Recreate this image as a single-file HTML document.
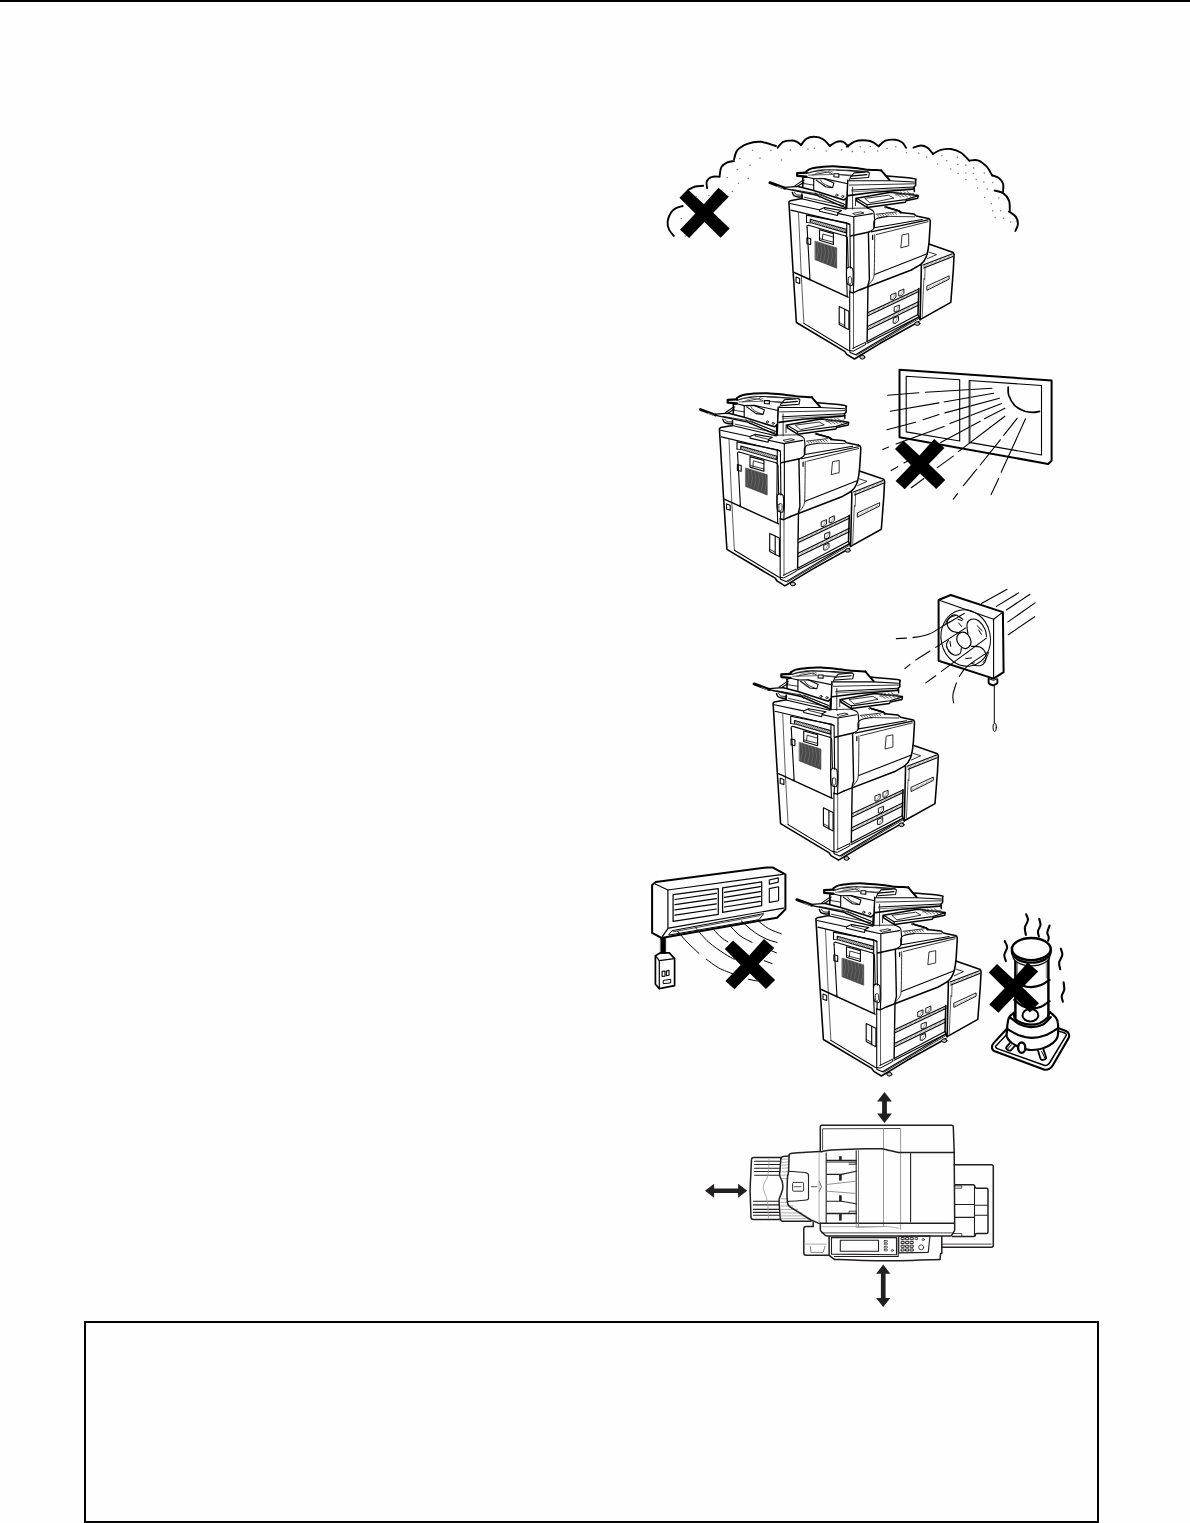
<!DOCTYPE html>
<html><head><meta charset="utf-8"><title>page</title>
<style>
html,body{margin:0;padding:0;background:#fefefe;}
body{width:1190px;height:1523px;position:relative;overflow:hidden;font-family:"Liberation Sans",sans-serif;}
#topbar{position:absolute;left:0;top:0;width:1190px;height:2px;background:#000;}
#box{position:absolute;left:84px;top:1321px;width:1011px;height:198px;border:2px solid #000;border-bottom-width:2px;}
svg{position:absolute;left:0;top:0;}
</style></head><body>
<div id="topbar"></div>
<div id="box"></div>
<svg width="1190" height="1523" viewBox="0 0 1190 1523" stroke-linecap="round" stroke-linejoin="round">
<defs>
<g id="copier">
<path d="M788.8 202.1 L796.4 322.5 L844.7 351.4 L846.8 354.4 L854.4 359 L918.8 321.7 L920.1 319.6 L950.8 302.4 L953.3 270 L954.1 254.6 L953.3 252.5 L928.9 244.1 L930.2 220.6 L928.1 218.5 L916.3 216 L913.8 213.9 L900.3 212.6 L898.7 210.9 L886.1 207.1 L917.7 198.1 L918.2 195.6 L915.6 185.5 L915.6 180.1 L913.1 178.4 L886.2 175.9 L881.2 170.4 L865.2 169.6 L840 167.5 L836.4 166.2 L812.1 167.9 L806.2 170.4 L806.2 172.5 L797.4 172.9 L797.4 175.9 L802.8 178 L802 183.8 L785.2 187.2 L769.6 182.6 L784.3 188.5 L792.7 193.1 L793.6 195.6 L802 196.9 L802 198.6 L790.2 200.7Z" stroke="none" stroke-width="0" fill="#fefefe"/>
<path d="M802 198.6 L790.2 200.7 L788.9 201.9 L793 270 L796.4 322.5 L844.7 351.4 L846.8 354.4 L854.4 359 L880.2 343.3 L918.8 321.7" stroke="#000" stroke-width="1.55" fill="none"/>
<path d="M790.1 203.5 L819.1 209.7" stroke="#000" stroke-width="1.1" fill="none"/>
<path d="M838 213.4 L853.5 216.8 L872.4 213.6" stroke="#000" stroke-width="1.1" fill="none"/>
<path d="M790.9 210.1 L849.7 224.1" stroke="#000" stroke-width="1.1" fill="none"/>
<path d="M819.5 209.7 L824.5 207.6 L841.8 210.5 L838 212.6 L837.6 215.5 L819.5 211.3Z" stroke="#000" stroke-width="1.1" fill="none"/>
<path d="M824.5 207.6 L824.5 209.2 L838 212.6" stroke="#000" stroke-width="0.8" fill="none"/>
<path d="M867.4 208 C868.2 208.4 871.3 209.3 872.4 210.3 C873.6 211.2 873.8 211 874.1 213.9 C874.4 216.8 875 224.7 874.1 227.7 C873.3 230.7 869.9 231.2 869.1 231.9" stroke="#000" stroke-width="1.1" fill="none"/>
<path d="M850.6 236 L869.1 231.9" stroke="#000" stroke-width="1.55" fill="none"/>
<path d="M853.1 213.4 L860.7 211.9 L864 213 L855.6 215.1Z" stroke="#000" stroke-width="0.8" fill="none"/>
<path d="M798.5 212.2 L801 270 L803.9 323.4" stroke="#333" stroke-width="0.8" fill="none"/>
<path d="M803.9 323.4 L848.1 350.2 L852.7 351" stroke="#000" stroke-width="1.1" fill="none"/>
<path d="M806.5 222.3 L806.5 215.1 L846.8 222.9 L849.6 224.4" stroke="#000" stroke-width="1.1" fill="none"/>
<path d="M806.5 222.3 L810.3 222.9" stroke="#000" stroke-width="0.8" fill="none"/>
<path d="M810.3 219.3 L846.4 229.4 L846.4 232.9 L810.3 222.5Z" stroke="#000" stroke-width="1.1" fill="#8a8a8a"/>
<path d="M812.4 220.5 L811.1 222.4" stroke="#e0e0e0" stroke-width="0.7" fill="none"/>
<path d="M814.2 221 L812.9 222.9" stroke="#e0e0e0" stroke-width="0.7" fill="none"/>
<path d="M816 221.5 L814.7 223.4" stroke="#e0e0e0" stroke-width="0.7" fill="none"/>
<path d="M817.8 222 L816.5 223.9" stroke="#e0e0e0" stroke-width="0.7" fill="none"/>
<path d="M819.6 222.5 L818.3 224.4" stroke="#e0e0e0" stroke-width="0.7" fill="none"/>
<path d="M821.4 223 L820.1 224.9" stroke="#e0e0e0" stroke-width="0.7" fill="none"/>
<path d="M823.2 223.5 L821.9 225.4" stroke="#e0e0e0" stroke-width="0.7" fill="none"/>
<path d="M825 224 L823.7 225.9" stroke="#e0e0e0" stroke-width="0.7" fill="none"/>
<path d="M826.8 224.5 L825.5 226.4" stroke="#e0e0e0" stroke-width="0.7" fill="none"/>
<path d="M828.7 225 L827.3 226.9" stroke="#e0e0e0" stroke-width="0.7" fill="none"/>
<path d="M830.5 225.5 L829.1 227.4" stroke="#e0e0e0" stroke-width="0.7" fill="none"/>
<path d="M832.3 226.1 L830.9 227.9" stroke="#e0e0e0" stroke-width="0.7" fill="none"/>
<path d="M834.1 226.6 L832.7 228.4" stroke="#e0e0e0" stroke-width="0.7" fill="none"/>
<path d="M835.9 227.1 L834.5 228.9" stroke="#e0e0e0" stroke-width="0.7" fill="none"/>
<path d="M837.7 227.6 L836.3 229.4" stroke="#e0e0e0" stroke-width="0.7" fill="none"/>
<path d="M839.5 228.1 L838.2 229.9" stroke="#e0e0e0" stroke-width="0.7" fill="none"/>
<path d="M841.3 228.6 L840 230.4" stroke="#e0e0e0" stroke-width="0.7" fill="none"/>
<path d="M843.1 229.1 L841.8 230.9" stroke="#e0e0e0" stroke-width="0.7" fill="none"/>
<path d="M844.9 229.6 L843.6 231.4" stroke="#e0e0e0" stroke-width="0.7" fill="none"/>
<path d="M807.1 227.7 C807.1 227.4 806.8 226.1 807.1 225.6 C807.3 225.2 808.3 225.3 808.6 225.2" stroke="#000" stroke-width="1.1" fill="none"/>
<path d="M808.6 225.2 L845.5 236" stroke="#000" stroke-width="1.1" fill="none"/>
<path d="M845.5 236 C845.8 236.2 846.9 236.8 847.2 237.4 C847.5 238 847.4 239.1 847.5 239.5" stroke="#000" stroke-width="1.1" fill="none"/>
<path d="M847.5 239.5 L848.2 267.2" stroke="#000" stroke-width="1.1" fill="none"/>
<path d="M807.1 227.7 L810 279.8 L809.4 278" stroke="#000" stroke-width="1.1" fill="none"/>
<path d="M819.5 229.8 L833.4 233.6 L833.4 244.5 L819.5 240.3Z" stroke="#000" stroke-width="1.1" fill="none"/>
<path d="M822.4 239.5 L822.9 234 L833.4 237" stroke="#000" stroke-width="0.8" fill="none"/>
<path d="M820.3 238.8 L833.4 242.2" stroke="#000" stroke-width="0.8" fill="none"/>
<path d="M806.9 237.8 L810.7 238.7 L810.7 244.5 L806.9 243.7Z" stroke="#000" stroke-width="1.1" fill="none"/>
<path d="M815.3 241.2 L836.7 247.9 L836.7 268.2 L815.3 259.8Z" stroke="#333" stroke-width="0.6" fill="#4a4a4a"/>
<path d="M817 242 L818.5 250.4 L816.6 258.8" stroke="#777" stroke-width="0.6" fill="none"/>
<path d="M820.5 243.1 L822 251.6 L820.1 260.2" stroke="#777" stroke-width="0.6" fill="none"/>
<path d="M824 244.2 L825.5 252.8 L823.6 261.5" stroke="#777" stroke-width="0.6" fill="none"/>
<path d="M827.6 245.3 L829.1 253.9 L827.1 262.9" stroke="#777" stroke-width="0.6" fill="none"/>
<path d="M831.1 246.4 L832.6 255.1 L830.7 264.2" stroke="#777" stroke-width="0.6" fill="none"/>
<path d="M834.6 247.5 L836.1 256.3 L834.2 265.5" stroke="#777" stroke-width="0.6" fill="none"/>
<path d="M846.8 222.9 L846.4 270 L847.2 296.2" stroke="#000" stroke-width="1.1" fill="none"/>
<path d="M849.9 224.4 L850.4 268.1" stroke="#000" stroke-width="1.1" fill="none"/>
<path d="M853.8 217.2 L853.9 279.8 L853.3 292.7" stroke="#000" stroke-width="1.1" fill="none"/>
<path d="M846.8 268.3 C846.7 269.4 846.4 272.7 846.4 275 C846.4 277.4 846.5 281 846.8 282.6 C847.2 284.2 847.6 284.3 848.5 284.7 C849.4 285.1 851.5 285.9 852.3 285.1 C853 284.4 853 282.6 853.1 280.1 C853.2 277.6 853.2 272 852.9 270 C852.7 268 852.5 268.4 851.8 267.9 C851.2 267.4 849.7 267 848.9 267.1 C848.1 267.1 847.2 268.1 846.8 268.3" stroke="#000" stroke-width="1.1" fill="none"/>
<path d="M848.5 277.6 C848.7 276.5 849.4 276.7 849.9 276.7 C850.4 276.8 851.2 276.8 851.4 277.7 C851.7 278.7 851.7 281.6 851.4 282.6 C851.2 283.6 850.4 283.8 849.9 283.9 C849.4 283.9 848.7 284.1 848.5 283 C848.2 282 848.2 278.6 848.5 277.6Z" stroke="#000" stroke-width="0.8" fill="none"/>
<path d="M850.2 285.1 L850 292" stroke="#000" stroke-width="1.1" fill="none"/>
<path d="M794.3 272.5 L848.1 297.1" stroke="#000" stroke-width="1.4" fill="none"/>
<path d="M796 277.1 L799.7 278.4 L799.7 283.4 L796 282.2Z" stroke="#000" stroke-width="1.1" fill="none"/>
<path d="M839.2 306.6 L848.9 311.2 L848.9 329.8 L839.2 324.6Z" stroke="#000" stroke-width="1.1" fill="none"/>
<path d="M844.7 309.3 L844.7 327.8" stroke="#000" stroke-width="1.1" fill="none"/>
<path d="M839.2 322.5 L844.7 325.5" stroke="#000" stroke-width="0.8" fill="none"/>
<path d="M849.7 292 L849.7 350.7" stroke="#000" stroke-width="1.1" fill="none"/>
<path d="M853.5 292.9 L853.5 348.6" stroke="#333" stroke-width="0.8" fill="none"/>
<path d="M849.7 292 L853.1 292.9 L860 289.7" stroke="#000" stroke-width="1.4" fill="none"/>
<path d="M852.7 348.5 L865.7 342.2 L865.7 344.5 L853.5 351" stroke="#000" stroke-width="1" fill="none"/>
<path d="M849.7 351 L850 352.5 L855.6 354.8 L918.7 317" stroke="#000" stroke-width="1.1" fill="none"/>
<path d="M856.9 355.2 L918.8 318.6" stroke="#000" stroke-width="0.8" fill="none"/>
<ellipse cx="862.4" cy="357.2" rx="2.5" ry="1.9" stroke="#000" stroke-width="1" fill="#bbb"/>
<ellipse cx="917.3" cy="323.6" rx="2.6" ry="1.8" stroke="#000" stroke-width="1" fill="#bbb"/>
<path d="M860 289.7 L911.3 270 L920.5 264.7" stroke="#000" stroke-width="1.55" fill="none"/>
<path d="M886.1 207.1 C888.2 207.8 896.3 210 898.7 210.9 C901 211.8 900.1 212.3 900.3 212.6" stroke="#000" stroke-width="1.55" fill="none"/>
<path d="M900.3 212.6 L913.8 213.9 L916.3 216 L928.1 218.5" stroke="#000" stroke-width="1.55" fill="none"/>
<path d="M928.1 218.5 C928.4 218.8 929.9 218.3 930.2 220.6 C930.4 222.8 930 228.1 929.7 231.9 C929.5 235.8 929.3 240.1 928.9 243.7 C928.5 247.3 928 251 927.2 253.8 C926.5 256.6 925.4 258.7 924.3 260.5 C923.2 262.3 921.1 264 920.5 264.7" stroke="#000" stroke-width="1.55" fill="none"/>
<path d="M873.9 227.7 C873.9 226.7 873.4 223 873.9 221.4 C874.4 219.9 874.5 219.3 876.8 218.5 C879.1 217.6 885.9 216.7 887.7 216.4" stroke="#000" stroke-width="1.1" fill="none"/>
<path d="M887.7 216.4 L914.6 216.8" stroke="#000" stroke-width="0.8" fill="none"/>
<path d="M876 214.3 L897 211.8" stroke="#000" stroke-width="0.8" fill="none"/>
<path d="M876.8 214.5 L878.9 216.4" stroke="#555" stroke-width="1" fill="none"/>
<path d="M879.3 214.2 L881.4 216.1" stroke="#555" stroke-width="1" fill="none"/>
<path d="M881.8 213.9 L883.9 215.8" stroke="#555" stroke-width="1" fill="none"/>
<path d="M884.4 213.6 L886.5 215.5" stroke="#555" stroke-width="1" fill="none"/>
<path d="M886.9 213.3 L889 215.2" stroke="#555" stroke-width="1" fill="none"/>
<path d="M889.4 213 L891.5 214.9" stroke="#555" stroke-width="1" fill="none"/>
<path d="M891.9 212.7 L894 214.6" stroke="#555" stroke-width="1" fill="none"/>
<path d="M894.5 212.4 L896.6 214.3" stroke="#555" stroke-width="1" fill="none"/>
<path d="M874.3 227.7 L922.2 219.5" stroke="#000" stroke-width="1.1" fill="none"/>
<path d="M870.9 231.9 L928.1 219.9" stroke="#000" stroke-width="1.1" fill="none"/>
<path d="M876.4 234.5 L928.1 221.7" stroke="#000" stroke-width="0.8" fill="none"/>
<path d="M868.4 232.4 L869.4 279.8 L868 285.1 L867.1 341.4" stroke="#000" stroke-width="1.4" fill="none"/>
<path d="M874.7 234.6 C874.7 238.7 874.6 252.2 874.5 258.8 C874.4 265.4 874.4 270.9 874.1 274.4 C873.8 277.9 873.6 278 872.6 279.8 C871.7 281.6 869.1 284.2 868.4 285.1" stroke="#000" stroke-width="0.8" fill="none"/>
<path d="M874.5 274.4 L927.2 253.8" stroke="#000" stroke-width="1.1" fill="none"/>
<path d="M902.4 234.9 L908.7 233.6 L908.7 245.8 L901.2 247.7Z" stroke="#000" stroke-width="0.8" fill="none"/>
<path d="M872.6 235.3 L872.6 239.5" stroke="#000" stroke-width="1.2" fill="none"/>
<path d="M868 312.4 L918.8 288.9" stroke="#000" stroke-width="1.1" fill="none"/>
<path d="M868 315.8 L918.8 291.4" stroke="#000" stroke-width="1.1" fill="none"/>
<path d="M868 314.1 L918.8 290.2" stroke="#777" stroke-width="1.6" fill="none" stroke-dasharray="0.6 0.8" stroke-linecap="butt"/>
<path d="M868 326.3 L918.8 301.5" stroke="#000" stroke-width="1.1" fill="none"/>
<path d="M868 329.7 L918.8 304.9" stroke="#000" stroke-width="1.1" fill="none"/>
<path d="M868 328 L918.8 303.2" stroke="#777" stroke-width="1.6" fill="none" stroke-dasharray="0.6 0.8" stroke-linecap="butt"/>
<path d="M867.1 341.4 L918 314.5" stroke="#000" stroke-width="1.1" fill="none"/>
<path d="M867.1 343.3 L918.8 317.1" stroke="#000" stroke-width="1.1" fill="none"/>
<path d="M918.8 288.5 L918 314.5 L920.1 319.6" stroke="#000" stroke-width="1.55" fill="none"/>
<path d="M891.1 294.8 L896 292.8 L896 297.1 L893.4 299.7 L891.1 299.7Z" stroke="#000" stroke-width="0.9" fill="none"/>
<path d="M894.9 294.4 L892.8 298.6" stroke="#666" stroke-width="0.6" fill="none"/>
<path d="M899.1 291 L903.9 289 L903.9 293.4 L901.4 295.9 L899.1 295.9Z" stroke="#000" stroke-width="0.9" fill="none"/>
<path d="M902.9 290.6 L900.8 294.8" stroke="#666" stroke-width="0.6" fill="none"/>
<path d="M894.5 307 L899.3 305 L899.3 309.3 L896.8 311.8 L894.5 311.8Z" stroke="#000" stroke-width="0.9" fill="none"/>
<path d="M898.2 306.6 L896.1 310.8" stroke="#666" stroke-width="0.6" fill="none"/>
<path d="M893.6 318.3 L898.5 316.3 L898.5 320.7 L896 323.2 L893.6 323.2Z" stroke="#000" stroke-width="0.9" fill="none"/>
<path d="M897.4 317.9 L895.3 322.1" stroke="#666" stroke-width="0.6" fill="none"/>
<path d="M928.9 244.1 L953.3 252.5 L954.1 254.6 L953.3 270 L950.8 302.4 L920.1 319.6" stroke="#000" stroke-width="1.55" fill="none"/>
<path d="M921.3 265.5 L921.3 270 L920.1 319.6" stroke="#000" stroke-width="1.55" fill="none"/>
<path d="M925.1 266.4 L924.7 279.8 L923.9 278.4 L922.2 317.1" stroke="#333" stroke-width="0.8" fill="none"/>
<path d="M923 265.1 L952.4 253.8" stroke="#000" stroke-width="1.1" fill="none"/>
<path d="M923.9 268.1 L952.9 256.5" stroke="#000" stroke-width="1.1" fill="none"/>
<path d="M923.4 266.6 L952.4 255.1" stroke="#777" stroke-width="1.6" fill="none" stroke-dasharray="0.6 0.8" stroke-linecap="butt"/>
<path d="M928.9 252.1 L936.5 254.6 L927.2 258.8" stroke="#000" stroke-width="0.8" fill="none"/>
<path d="M927.2 286 L949.1 275.9 L949.1 279.2 L927.2 290.2Z" stroke="#000" stroke-width="0.9" fill="none"/>
<path d="M928.1 288.1 L948.2 278.4" stroke="#777" stroke-width="1.2" fill="none" stroke-dasharray="0.6 0.8" stroke-linecap="butt"/>
<path d="M797.4 172.9 L797.4 175.9 L802.8 178 L802 183.8 L794.4 186.4 L785.2 187.2 L785.2 188.7 L792.7 193.1 L794 195.6 L802 196.9 L845.7 209.1 L847.8 208.6 L846.3 208.6 L855.5 205.7 L867.1 207.4 L905.2 202.3 L906 200.7 L917.8 198.2 L918.2 195.4 L914.4 191.4 L915.6 185.5 L915.6 180.1 L913.1 178.4 L886.6 175.9 L881.2 170.4 L865.2 169.4 L840 167.5 L836.4 166.2 L823.8 166.6 L812.1 167.9 L806.2 170.4 L806.2 172.5Z" stroke="none" stroke-width="0" fill="#fefefe"/>
<path d="M769.9 182.7 L784.7 188.2" stroke="#000" stroke-width="2.9" fill="none"/>
<path d="M777.6 186.4 L783.1 188.7" stroke="#888" stroke-width="1" fill="none"/>
<path d="M784.7 187.4 L798.6 186.4" stroke="#000" stroke-width="1.35" fill="none"/>
<path d="M798.2 186.4 L813.7 190.4 L844 200 L846.3 198" stroke="#000" stroke-width="1.55" fill="none"/>
<path d="M785.2 188.6 L817.1 195.3 L845.7 207.8" stroke="#000" stroke-width="1.4" fill="none"/>
<path d="M792.7 189.6 L817.1 193.8 L844 204" stroke="#000" stroke-width="0.8" fill="none"/>
<path d="M802.8 199 L845.7 209.1" stroke="#000" stroke-width="1.1" fill="none"/>
<path d="M804.5 197.3 L844 205.7" stroke="#000" stroke-width="0.8" fill="none"/>
<path d="M815.4 192.7 L819.6 197.3" stroke="#000" stroke-width="0.8" fill="none"/>
<path d="M819.6 193.9 L845.7 205" stroke="#000" stroke-width="0.8" fill="none"/>
<path d="M792.3 192.4 C792.6 193 792.9 194.8 794 195.6 C795 196.4 797.3 196.8 798.6 197 C799.9 197.2 801.4 196.8 802 196.8" stroke="#000" stroke-width="1.4" fill="none"/>
<path d="M794.4 192.4 C794.8 192.8 795.3 194.3 796.5 194.8 C797.8 195.2 801.1 195.1 802 195.2" stroke="#000" stroke-width="0.9" fill="none"/>
<path d="M802 193.9 L802 198.8" stroke="#000" stroke-width="1.55" fill="none"/>
<path d="M794.8 185.9 L802 180.9 L804.3 180.1" stroke="#000" stroke-width="1.1" fill="none"/>
<path d="M796.9 186.8 L803.8 182.2" stroke="#000" stroke-width="1.1" fill="none"/>
<path d="M806.4 172.6 L797.2 173.1 L797.2 175.9 L806.4 176.6" stroke="#000" stroke-width="2.3" fill="none"/>
<path d="M802.8 178 L802.8 186.4" stroke="#000" stroke-width="1.55" fill="none"/>
<path d="M802.8 178 L806.2 177 L814.2 178.8" stroke="#000" stroke-width="1.1" fill="none"/>
<path d="M806.4 172.8 C806.5 172.5 805.7 171.8 806.6 171.1 C807.5 170.4 809 169.1 811.8 168.4 C814.6 167.7 819.1 167.1 823.2 166.7 C827.4 166.4 831.3 166.2 836.7 166.4 C842.1 166.6 850.7 167.6 855.5 168.1 C860.3 168.6 860.9 169 865.2 169.4 C869.5 169.8 878.5 170.2 881.2 170.4" stroke="#000" stroke-width="2" fill="none"/>
<path d="M881.2 170.4 L889.6 180.1" stroke="#000" stroke-width="2" fill="none"/>
<path d="M886.6 175.9 C891.1 176.3 908.3 177.7 913.1 178.4 C917.9 179.1 915.2 179.8 915.6 180.1" stroke="#000" stroke-width="1.55" fill="none"/>
<path d="M915.6 180.1 L915.6 185.5 L913.9 187.2 L914.4 191.4" stroke="#000" stroke-width="1.55" fill="none"/>
<path d="M807 173.3 C808.4 173 812.1 171.8 815.4 171.2 C818.8 170.6 821.6 169.9 827.2 169.7 C832.8 169.6 842.3 170.1 849 170.4 C855.8 170.7 864.6 171.5 867.7 171.7" stroke="#000" stroke-width="1.1" fill="none"/>
<path d="M812.1 175 L828.9 171.9" stroke="#000" stroke-width="0.8" fill="none"/>
<path d="M828.9 171.9 L832.2 173.8" stroke="#000" stroke-width="0.8" fill="none"/>
<path d="M833.9 173.8 L838.9 173.8 L838.9 177.1 L833.9 176.7Z" stroke="#000" stroke-width="1.1" fill="none"/>
<path d="M838.9 174.6 L851.6 175.9" stroke="#000" stroke-width="0.8" fill="none"/>
<path d="M867.7 171.7 L869.4 172.9 L868.6 177.5 L850.9 178.8" stroke="#000" stroke-width="1.1" fill="none"/>
<path d="M850.9 176.1 L866.9 174.6" stroke="#000" stroke-width="1.1" fill="none"/>
<path d="M850.9 176.1 L849.2 180.1" stroke="#000" stroke-width="1.1" fill="none"/>
<path d="M851.6 175.9 L854.1 172.9 L865 172.1" stroke="#000" stroke-width="1.1" fill="none"/>
<path d="M807.4 173.2 C808.7 172.8 812.1 171.4 815.2 170.8 C818.2 170.1 823 169.2 825.9 169.4 C828.8 169.6 831.5 171.7 832.6 172.1" stroke="#555" stroke-width="0.8" fill="none"/>
<path d="M815.2 173.8 C816 173.5 818 172.3 819.9 172 C821.8 171.6 824.9 171.5 826.6 171.8 C828.3 172.1 829.7 173.5 830.3 173.8" stroke="#666" stroke-width="0.8" fill="none"/>
<path d="M836.7 170.1 L852.8 171.1 L868.3 172" stroke="#333" stroke-width="1" fill="none"/>
<path d="M839.4 174.5 L852.1 175.2" stroke="#444" stroke-width="0.9" fill="none"/>
<path d="M808.4 175.1 L832.6 174.5" stroke="#555" stroke-width="0.9" fill="none"/>
<path d="M813.7 178.8 L813.7 189.9" stroke="#000" stroke-width="1.1" fill="none"/>
<path d="M813.7 178.8 L823.8 178.6 L847.8 183.7" stroke="#000" stroke-width="1.1" fill="none"/>
<path d="M823.8 178.6 L833.9 183 L832.6 187.6 L825.5 186.8 L816.3 180.1" stroke="#000" stroke-width="1.1" fill="none"/>
<path d="M820.5 180.1 C821 180.7 822 182.7 823.8 183.8 C825.6 185 830.1 186.6 831.4 187.2" stroke="#000" stroke-width="0.8" fill="none"/>
<path d="M802.8 183.4 L813.7 185.1" stroke="#000" stroke-width="0.8" fill="none"/>
<path d="M847.8 181.3 L846.9 208.6" stroke="#000" stroke-width="1.1" fill="none"/>
<path d="M847.6 180.1 L846.3 208.6" stroke="#000" stroke-width="1.1" fill="none"/>
<path d="M852.6 187.2 L852.6 209.1" stroke="#000" stroke-width="0.8" fill="none"/>
<path d="M855.5 198.1 L855.5 205.7" stroke="#000" stroke-width="0.8" fill="none"/>
<path d="M846.1 197.7 L845.7 208.1" stroke="#000" stroke-width="1.1" fill="none"/>
<circle cx="836.8" cy="195.2" r="1.1" stroke="#000" stroke-width="0.8" fill="none"/>
<circle cx="842.7" cy="196.5" r="1.1" stroke="#000" stroke-width="0.8" fill="none"/>
<path d="M848.4 180.7 L889.6 180.7 L914.2 182" stroke="#000" stroke-width="1.1" fill="none"/>
<path d="M849.2 185.1 L914.4 183.8" stroke="#333" stroke-width="1" fill="none"/>
<path d="M851.8 190 L913.6 187" stroke="#000" stroke-width="1.1" fill="none"/>
<path d="M851.8 191.8 L913.6 188.5" stroke="#555" stroke-width="0.8" fill="none"/>
<path d="M848.4 195.6 L871.9 192.5 L912.3 189.3 L914.4 188.7" stroke="#000" stroke-width="1.6" fill="none"/>
<path d="M856.6 198.3 L890.4 192.3 L918.2 195.4 L917.8 198.2 L906 200.7 L905.2 202.3 L867.1 207.4 L856.6 200.8Z" stroke="#000" stroke-width="1.55" fill="none"/>
<path d="M856.6 198.3 L867.1 204.7 L905.5 199.6 L917.8 195.9" stroke="#000" stroke-width="1.1" fill="none"/>
<path d="M867.1 204.7 L867.1 207.4" stroke="#000" stroke-width="1.1" fill="none"/>
<path d="M865.2 198.3 L888.7 195.2 L893.8 198.1 L870.3 202.8Z" stroke="#000" stroke-width="0.8" fill="none"/>
<path d="M893.8 192.4 L900.9 197.1" stroke="#444" stroke-width="0.8" fill="none"/>
<path d="M897.1 192.3 L904.3 197" stroke="#444" stroke-width="0.8" fill="none"/>
<path d="M900.5 192.1 L907.6 196.8" stroke="#444" stroke-width="0.8" fill="none"/>
<path d="M903.9 191.9 L911 196.6" stroke="#444" stroke-width="0.8" fill="none"/>
<path d="M907.2 191.7 L914.4 196.5" stroke="#444" stroke-width="0.8" fill="none"/>
<path d="M895.5 194.9 L913.9 193.3" stroke="#444" stroke-width="0.8" fill="none"/>
<path d="M887.1 207.4 L898.8 210.7 L901.3 212.4" stroke="#000" stroke-width="1.55" fill="none"/>
<circle cx="885.4" cy="207.1" r="0.9" stroke="#000" stroke-width="0.7" fill="none"/>
<path d="M847.2 208.4 L867.4 208" stroke="#000" stroke-width="0.8" fill="none"/>
</g>
<g id="xm"><path d="M-24.8 -15.4L-16.5 -23.9L-0.35 -8.9L14.35 -25.4L24.65 -16.3L9.06 -0.4L25.5 15.5L16.4 24.6L0.24 9L-15.06 24.9L-24.2 16.6L-8.9 0.5Z" fill="#000" stroke="none"/></g>
</defs>
<path d="M673.8 235.9 C673.1 234.9 670.3 232.4 669.3 230 C668.2 227.7 667.3 224.6 667.6 221.6 C667.9 218.7 669.6 214.6 671 212.4 C672.4 210.2 674 209.3 676 208.2 C678 207.1 681.6 206.4 682.7 206" stroke="#000" stroke-width="1.9" fill="none"/>
<path d="M688.6 189.7 C689.7 189.2 692.9 187.2 695.3 186.5 C697.8 185.9 701.9 186 703.2 185.8" stroke="#000" stroke-width="1.9" fill="none"/>
<path d="M707.1 188 C707 186.9 705.9 183.2 706.8 181.3 C707.6 179.4 710 177.5 712.1 176.8 C714.3 176 718.4 176.8 719.7 176.8" stroke="#000" stroke-width="1.9" fill="none"/>
<path d="M719.7 175.4 C720 174 720.1 169.2 721.4 167 C722.6 164.8 725.2 163.3 727.3 162.3 C729.4 161.3 732.9 161.3 734 161.1" stroke="#000" stroke-width="1.9" fill="none"/>
<path d="M734 159.5 C734.6 157.9 735.1 152.8 737.4 150.2 C739.6 147.6 743.5 145.2 747.4 143.8 C751.4 142.4 756.1 141.4 760.9 141.8 C765.6 142.2 773.5 145.3 776 146" stroke="#000" stroke-width="1.9" fill="none"/>
<path d="M777.7 147.7 C778.5 146.8 780.5 143.3 782.7 142.1 C785 140.9 788.8 140.5 791.1 140.5 C793.5 140.4 795.3 141 797 141.8 C798.7 142.6 800.5 144.6 801.2 145.2" stroke="#000" stroke-width="1.9" fill="none"/>
<path d="M801.2 144.8 C802.1 143.8 804 140.1 806.3 138.8 C808.5 137.4 811.9 136.7 814.7 136.8 C817.5 136.8 820.5 137.7 823.1 139.3 C825.6 140.8 828.7 144.9 829.8 146" stroke="#000" stroke-width="1.9" fill="none"/>
<path d="M829.8 146 C830.9 145.3 834.3 142.5 836.5 141.8 C838.8 141.1 841.3 141 843.2 141.8 C845.2 142.6 847.4 145.7 848.3 146.5" stroke="#000" stroke-width="1.9" fill="none"/>
<path d="M846.8 146.8 C848.2 145.9 851.8 142.4 855.2 141.3 C858.6 140.2 863.9 140.2 867 140.5 C870.1 140.7 871.7 141.6 873.7 142.6 C875.7 143.7 877.9 145.9 878.7 146.5" stroke="#000" stroke-width="1.9" fill="none"/>
<path d="M878.7 146 C879.9 145.1 882.7 141.7 885.5 140.6 C888.3 139.6 892.7 139.5 895.5 139.8 C898.3 140.1 900.5 141.3 902.3 142.6 C904 144 905.4 146.8 906 147.7" stroke="#000" stroke-width="1.9" fill="none"/>
<path d="M913.5 147.7 C914.7 147.3 918.4 145.5 920.8 145.5 C923.1 145.5 925.5 146.3 927.5 147.7 C929.5 149.1 932 152.9 932.9 153.9" stroke="#000" stroke-width="1.9" fill="none"/>
<path d="M932.9 153.9 C934.2 153.2 937.9 150.7 940.9 149.9 C943.9 149.1 947.6 148.6 951 149 C954.4 149.5 958.1 150.8 961.1 152.7 C964.1 154.7 967.8 159.3 969.2 160.6" stroke="#000" stroke-width="1.9" fill="none"/>
<path d="M969.2 160.6 C970.6 160.6 975 159.4 977.9 160.3 C980.8 161.2 983.9 163.7 986.3 166.2 C988.7 168.7 991.2 173.9 992.2 175.4" stroke="#000" stroke-width="1.9" fill="none"/>
<path d="M992.2 175.4 C993.3 175.8 997.1 176.5 998.9 177.9 C1000.7 179.3 1002.4 181.6 1003.1 183.8 C1003.8 186.1 1003.1 190.1 1003.1 191.4" stroke="#000" stroke-width="1.9" fill="none"/>
<path d="M994.7 190.5 C996.1 191 1000.7 191.4 1003.1 193.1 C1005.5 194.7 1007.9 197.7 1009 200.6 C1010.1 203.6 1009.7 209 1009.8 210.7" stroke="#000" stroke-width="1.9" fill="none"/>
<path d="M1009 211.6 C1010.1 212.4 1014.2 214.5 1015.7 216.6 C1017.2 218.7 1018 221.8 1017.9 224.2 C1017.8 226.5 1015.8 229.8 1015.4 230.9" stroke="#000" stroke-width="1.9" fill="none"/>
<circle cx="752.5" cy="150.2" r="0.75" fill="#777"/>
<circle cx="771.0" cy="150.5" r="0.75" fill="#777"/>
<circle cx="790.3" cy="149.9" r="0.75" fill="#777"/>
<circle cx="807.9" cy="149.0" r="0.75" fill="#777"/>
<circle cx="814.3" cy="148.2" r="0.75" fill="#777"/>
<circle cx="826.1" cy="151.1" r="0.75" fill="#777"/>
<circle cx="841.6" cy="149.4" r="0.75" fill="#777"/>
<circle cx="852.5" cy="151.6" r="0.75" fill="#777"/>
<circle cx="739.9" cy="158.6" r="0.75" fill="#777"/>
<circle cx="760.0" cy="158.3" r="0.75" fill="#777"/>
<circle cx="781.4" cy="160.0" r="0.75" fill="#777"/>
<circle cx="750.0" cy="165.3" r="0.75" fill="#777"/>
<circle cx="737.4" cy="169.5" r="0.75" fill="#777"/>
<circle cx="727.3" cy="177.4" r="0.75" fill="#777"/>
<circle cx="748.3" cy="178.4" r="0.75" fill="#777"/>
<circle cx="738.5" cy="183.3" r="0.75" fill="#777"/>
<circle cx="732.3" cy="191.4" r="0.75" fill="#777"/>
<circle cx="708.8" cy="195.6" r="0.75" fill="#777"/>
<circle cx="696.2" cy="196.4" r="0.75" fill="#777"/>
<circle cx="681.4" cy="218.6" r="0.75" fill="#777"/>
<circle cx="685.3" cy="235.9" r="0.75" fill="#777"/>
<circle cx="841.4" cy="149.9" r="0.75" fill="#777"/>
<circle cx="852.4" cy="151.6" r="0.75" fill="#777"/>
<circle cx="860.3" cy="146.8" r="0.75" fill="#777"/>
<circle cx="864.5" cy="151.9" r="0.75" fill="#777"/>
<circle cx="870.3" cy="146.5" r="0.75" fill="#777"/>
<circle cx="877.6" cy="151.1" r="0.75" fill="#777"/>
<circle cx="887.1" cy="148.5" r="0.75" fill="#777"/>
<circle cx="895.9" cy="146.8" r="0.75" fill="#777"/>
<circle cx="906.5" cy="152.7" r="0.75" fill="#777"/>
<circle cx="918.6" cy="153.2" r="0.75" fill="#777"/>
<circle cx="926.6" cy="156.9" r="0.75" fill="#777"/>
<circle cx="941.8" cy="155.6" r="0.75" fill="#777"/>
<circle cx="957.4" cy="157.3" r="0.75" fill="#777"/>
<circle cx="946.8" cy="160.8" r="0.75" fill="#777"/>
<circle cx="937.6" cy="164.0" r="0.75" fill="#777"/>
<circle cx="957.7" cy="164.5" r="0.75" fill="#777"/>
<circle cx="965.8" cy="165.3" r="0.75" fill="#777"/>
<circle cx="950.7" cy="169.0" r="0.75" fill="#777"/>
<circle cx="973.7" cy="167.9" r="0.75" fill="#777"/>
<circle cx="958.1" cy="173.4" r="0.75" fill="#777"/>
<circle cx="965.8" cy="172.9" r="0.75" fill="#777"/>
<circle cx="973.4" cy="173.4" r="0.75" fill="#777"/>
<circle cx="984.3" cy="172.9" r="0.75" fill="#777"/>
<circle cx="965.8" cy="179.6" r="0.75" fill="#777"/>
<circle cx="976.2" cy="179.6" r="0.75" fill="#777"/>
<circle cx="983.8" cy="182.1" r="0.75" fill="#777"/>
<circle cx="992.7" cy="182.5" r="0.75" fill="#777"/>
<circle cx="977.6" cy="188.0" r="0.75" fill="#777"/>
<circle cx="987.1" cy="188.9" r="0.75" fill="#777"/>
<circle cx="984.6" cy="197.6" r="0.75" fill="#777"/>
<circle cx="998.9" cy="198.1" r="0.75" fill="#777"/>
<circle cx="991.3" cy="203.7" r="0.75" fill="#777"/>
<circle cx="992.7" cy="210.7" r="0.75" fill="#777"/>
<circle cx="1000.6" cy="210.7" r="0.75" fill="#777"/>
<circle cx="995.2" cy="217.4" r="0.75" fill="#777"/>
<circle cx="1003.6" cy="218.3" r="0.75" fill="#777"/>
<circle cx="1010.7" cy="222.1" r="0.75" fill="#777"/>
<path d="M887.7 395.3 L918.8 392.8" stroke="#000" stroke-width="1.1" fill="none"/>
<path d="M925.5 392.3 L991.9 388.2" stroke="#000" stroke-width="1.1" fill="none"/>
<path d="M890.3 411.3 L939 402.9" stroke="#000" stroke-width="1.1" fill="none"/>
<path d="M944 402 L993.6 393.3" stroke="#000" stroke-width="1.1" fill="none"/>
<path d="M886.9 429.7 L915.5 422.2" stroke="#000" stroke-width="1.1" fill="none"/>
<path d="M923 419.7 L939 414.6" stroke="#000" stroke-width="1.1" fill="none"/>
<path d="M944.9 412.9 L999.5 398.3" stroke="#000" stroke-width="1.1" fill="none"/>
<path d="M882.7 449.4 L888.6 447.1" stroke="#000" stroke-width="1.1" fill="none"/>
<path d="M896.1 444 L944 426.4" stroke="#000" stroke-width="1.1" fill="none"/>
<path d="M949.9 423.5 L1001.7 403.4" stroke="#000" stroke-width="1.1" fill="none"/>
<path d="M891.1 470.4 L897.8 466.7" stroke="#000" stroke-width="1.1" fill="none"/>
<path d="M904 462.9 L909.1 460.3" stroke="#000" stroke-width="1.1" fill="none"/>
<path d="M940.7 442.4 L980.2 421.3" stroke="#000" stroke-width="1.1" fill="none"/>
<path d="M984.4 418.8 L1004.9 408.2" stroke="#000" stroke-width="1.1" fill="none"/>
<path d="M911.3 487.7 L923.9 478.5" stroke="#000" stroke-width="1.1" fill="none"/>
<path d="M937.3 467.6 L953.3 456.1" stroke="#000" stroke-width="1.1" fill="none"/>
<path d="M958.3 451.6 L1004.9 416.3" stroke="#000" stroke-width="1.1" fill="none"/>
<path d="M953.3 499.2 L957.5 493.6" stroke="#000" stroke-width="1.1" fill="none"/>
<path d="M963.4 485.7 L976.8 469.2" stroke="#000" stroke-width="1.1" fill="none"/>
<path d="M980.2 465 L1000.3 439.8" stroke="#000" stroke-width="1.1" fill="none"/>
<path d="M1003.7 435.3 L1017.1 418.3" stroke="#000" stroke-width="1.1" fill="none"/>
<path d="M991.1 494.5 L998.7 478.5" stroke="#000" stroke-width="1.1" fill="none"/>
<path d="M1001.2 472.3 L1025.5 418.8" stroke="#000" stroke-width="1.1" fill="none"/>
<path d="M899.5 369.7 L1051.6 380.5 L1051.6 460.8 L1048.2 463.9 L899.5 437.3Z" stroke="#000" stroke-width="2" fill="none"/>
<path d="M906.2 376.3 L959.7 379.7 L959.7 441 L906.2 431.9Z" stroke="#000" stroke-width="1.1" fill="none"/>
<path d="M969.2 380.5 L1041.5 385.5 L1041.5 455 L969.2 442.4Z" stroke="#000" stroke-width="1.1" fill="none"/>
<path d="M970.4 381.8 L970.4 442" stroke="#666" stroke-width="0.8" fill="none"/>
<path d="M1008.2 387.2 C1008.3 388.6 1007.7 392.3 1008.7 395.3 C1009.8 398.3 1012 402.7 1014.6 405.4 C1017.3 408 1021.6 410.1 1024.7 411.3 C1027.8 412.4 1030.6 412.4 1033.1 412.4 C1035.6 412.4 1038.4 411.5 1039.5 411.3" stroke="#000" stroke-width="1.7" fill="none"/>
<path d="M981.4 603.6 L1007.1 589.3" stroke="#000" stroke-width="1.1" fill="none"/>
<path d="M996.4 606.4 L1018.6 592.9" stroke="#000" stroke-width="1.1" fill="none"/>
<path d="M1006.4 610 L1030 594.3" stroke="#000" stroke-width="1.1" fill="none"/>
<path d="M1007.9 621.9 L1035 602.9" stroke="#000" stroke-width="1.1" fill="none"/>
<path d="M1008.3 634.7 L1034.7 616.7" stroke="#000" stroke-width="1.1" fill="none"/>
<path d="M938.6 600 L950.7 595 L1002.9 612.1 L1003.6 672.1 L993.6 678.6 L938.6 660.7Z" stroke="#000" stroke-width="2" fill="#fefefe"/>
<path d="M938.6 600 L993.6 619.3 L1002.9 612.1" stroke="#000" stroke-width="1.1" fill="none"/>
<path d="M993.6 619.3 L993.6 678.6" stroke="#000" stroke-width="1.1" fill="none"/>
<ellipse cx="965.7" cy="638.0" rx="24.6" ry="28.4" transform="rotate(-12 965.7 638)" stroke="#000" stroke-width="1" fill="none"/>
<path d="M945.8 623.6 C946 623.1 946.4 621.3 947.1 620.3 C947.9 619.2 948.7 618.4 950.2 617.6 C951.6 616.8 954.9 615.8 955.9 615.4" stroke="#000" stroke-width="0.9" fill="none"/>
<path d="M983.1 662.3 C983.7 661.5 985.6 659.5 986.5 657.9 C987.4 656.3 988.3 653.4 988.6 652.5" stroke="#000" stroke-width="0.9" fill="none"/>
<path d="M946.8 647.1 C947.3 648 948.4 651.2 949.5 652.5 C950.6 653.8 952.9 654.5 953.5 654.9" stroke="#000" stroke-width="0.8" fill="none"/>
<path d="M957.1 636.4 C957.6 635 958.6 633.5 960 632.9 C961.4 632.3 964 632 965.7 632.9 C967.4 633.7 969.2 636 970 637.9 C970.8 639.8 971.4 642.5 970.7 644.3 C970 646.1 967.4 648.2 965.7 648.6 C964 648.9 962.1 647.6 960.7 646.4 C959.3 645.2 957.7 643.1 957.1 641.4 C956.5 639.8 956.7 637.9 957.1 636.4Z" stroke="#000" stroke-width="1.2" fill="none"/>
<path d="M960 632.9 C958.6 632.5 953.6 632.3 951.4 630.7 C949.3 629.2 947.4 625.8 947.1 623.6 C946.9 621.3 948.6 618.6 950 617.1 C951.4 615.7 953.6 614.6 955.7 615 C957.9 615.4 961.7 618.6 962.9 619.3" stroke="#000" stroke-width="1.1" fill="none"/>
<path d="M967.9 633.6 C967.7 631.9 966.5 626 967.1 623.6 C967.7 621.2 969.5 619.8 971.4 619.3 C973.3 618.8 976.3 619 978.6 620.7 C980.8 622.4 983.7 626.7 985 629.3 C986.3 631.9 986.2 635.2 986.4 636.4" stroke="#000" stroke-width="1.1" fill="none"/>
<path d="M971.4 646.4 C972.9 646.5 977.6 646 980 647.1 C982.4 648.3 984.9 651.1 985.7 653.6 C986.5 656.1 986 660.1 985 662.1 C984 664.2 982 665.2 980 665.7 C978 666.2 974 665.1 972.9 665" stroke="#000" stroke-width="1.1" fill="none"/>
<path d="M961.4 647.9 C961.2 648.8 961.2 652.4 960 653.6 C958.8 654.8 956.1 655.4 954.3 655 C952.5 654.6 950.6 653.1 949.3 651.4 C948 649.8 946.5 646.9 946.4 645 C946.3 643.1 948.2 640.8 948.6 640" stroke="#000" stroke-width="1.1" fill="none"/>
<path d="M957.9 619.3 L962.1 620.7" stroke="#000" stroke-width="1" fill="none"/>
<path d="M958.6 622.9 L961.4 626.4" stroke="#000" stroke-width="1" fill="none"/>
<path d="M977.1 625.7 L982.1 630.7" stroke="#000" stroke-width="1" fill="none"/>
<path d="M978.6 630 L981.4 634.3" stroke="#000" stroke-width="1" fill="none"/>
<path d="M965.7 658.6 L971.4 657.9" stroke="#000" stroke-width="1" fill="none"/>
<path d="M971.4 663.6 L974.3 662.9" stroke="#000" stroke-width="1" fill="none"/>
<path d="M950 641.4 L950.7 646.4" stroke="#000" stroke-width="1" fill="none"/>
<path d="M988.6 678.6 L988.6 682.6 Q988.6 683.6 989.5 684 L991.9 685 Q992.9 685.4 993.8 685.1 L996.5 683.9 Q997.4 683.6 997.4 682.6 L997.4 679.6" stroke="#000" stroke-width="1.9" fill="none"/>
<path d="M988.6 678.6 L993.6 680.4 L997.1 678.6" stroke="#000" stroke-width="1" fill="none"/>
<path d="M994.3 685.3 L994.3 722.9" stroke="#000" stroke-width="1" fill="none"/>
<ellipse cx="994.7" cy="727.3" rx="1.7" ry="4.2" stroke="#000" stroke-width="1" fill="#fefefe"/>
<path d="M896.4 638.6 L906.4 638.1" stroke="#000" stroke-width="1.1" fill="none"/>
<path d="M912.9 637.6 C915.5 637 922.9 636.6 928.6 634.3 C934.3 632 941.2 627 947.1 623.6 C953.1 620.1 961.4 615.2 964.3 613.6" stroke="#000" stroke-width="1.1" fill="none"/>
<path d="M905 668.6 L910 664.3" stroke="#000" stroke-width="1.1" fill="none"/>
<path d="M915.7 660 L930 651" stroke="#000" stroke-width="1.1" fill="none"/>
<path d="M935.7 647.4 L965.7 627.9" stroke="#000" stroke-width="1.1" fill="none"/>
<path d="M925.7 682.9 L935.7 675.7" stroke="#000" stroke-width="1.1" fill="none"/>
<path d="M941.4 671.4 L986.4 638.1" stroke="#000" stroke-width="1.1" fill="none"/>
<path d="M953.6 702.9 C953.5 701.5 952.4 698.3 952.9 695 C953.3 691.7 955.8 684.9 956.4 682.9" stroke="#000" stroke-width="1.1" fill="none"/>
<path d="M959.3 676.4 C960.6 674.8 962.4 670.5 967.1 666.4 C971.9 662.4 984.4 654.5 987.9 652.1" stroke="#000" stroke-width="1.1" fill="none"/>
<path d="M652.1 885 L655.7 882.1 L767.3 867.4 L773 867.6 L785.4 874.4 L785.4 909.3 L777.1 917.7 L661.4 937.9 L652.1 932.9Z" stroke="#000" stroke-width="2" fill="none"/>
<path d="M655.7 884.3 L667.9 890 L782.9 874.3" stroke="#000" stroke-width="1.2" fill="none"/>
<path d="M667.9 890 L667.9 928.6 L661.4 937.9" stroke="#000" stroke-width="1.2" fill="none"/>
<path d="M668.6 928.1 L783.6 908.1" stroke="#000" stroke-width="1.2" fill="none"/>
<path d="M673.1 894.7 L718.3 888.6 L718.3 914.3 L673.1 921.4Z" stroke="#000" stroke-width="1.2" fill="none"/>
<path d="M722.6 887.9 L761.7 881.9 L761.7 905.7 L722.6 912.4Z" stroke="#000" stroke-width="1.2" fill="none"/>
<path d="M675 899.5 L716.4 893.4" stroke="#000" stroke-width="1.2" fill="none"/>
<path d="M724.3 892.4 L760.3 886.7" stroke="#000" stroke-width="1.2" fill="none"/>
<path d="M675 904.7 L716.4 898.6" stroke="#000" stroke-width="1.2" fill="none"/>
<path d="M724.3 897.3 L760.3 891.6" stroke="#000" stroke-width="1.2" fill="none"/>
<path d="M675 909.9 L716.4 903.8" stroke="#000" stroke-width="1.2" fill="none"/>
<path d="M724.3 902.1 L760.3 896.4" stroke="#000" stroke-width="1.2" fill="none"/>
<path d="M675 915.1 L716.4 909" stroke="#000" stroke-width="1.2" fill="none"/>
<path d="M724.3 907 L760.3 901.3" stroke="#000" stroke-width="1.2" fill="none"/>
<path d="M769.3 880 L778.3 877.9 L778.3 882.1 L769.3 884.3Z" stroke="#000" stroke-width="1.1" fill="none"/>
<path d="M769.3 888.6 L778.6 886.7 L778.6 900.7 L769.3 902.4Z" stroke="#000" stroke-width="1.1" fill="none"/>
<path d="M669.3 933.9 L672.1 930.7 L763.7 913.6 L759 919.7 L669.3 935Z" stroke="#000" stroke-width="1" fill="none"/>
<path d="M673.1 931.9 L760 915.6" stroke="#000" stroke-width="0.7" fill="none"/>
<path d="M677.9 931.4 C679.4 933.2 683.6 938.5 687.1 942.1 C690.6 945.8 696.9 951.4 698.9 953.3" stroke="#000" stroke-width="1" fill="none"/>
<path d="M695.7 927.9 C697.9 930.2 703.8 937.9 708.6 942.1 C713.3 946.4 720 950.7 724.3 953.6 C728.6 956.4 732.6 958.3 734.3 959.3" stroke="#000" stroke-width="1" fill="none"/>
<path d="M712.1 927.6 C713.5 929 717.4 934 720 936.4 C722.6 938.8 726.5 941 727.9 941.9" stroke="#000" stroke-width="1" fill="none"/>
<path d="M729.3 925 C731.1 926.8 736.2 932.8 740 935.7 C743.8 938.6 750.1 941.3 752.1 942.4" stroke="#000" stroke-width="1" fill="none"/>
<path d="M741.4 921 C743.6 922.9 750 929.1 754.3 932.1 C758.6 935.2 763.3 937.6 767.1 939.3 C771 941 775.5 941.9 777.1 942.4" stroke="#000" stroke-width="1" fill="none"/>
<path d="M757.1 920 C759 921.4 764.5 926.3 768.6 928.6 C772.6 930.9 779.3 933 781.4 933.9" stroke="#000" stroke-width="1" fill="none"/>
<path d="M706.4 959.3 C708.5 960.7 714.2 965.4 718.6 967.9 C723 970.3 730.5 972.9 732.9 973.9" stroke="#000" stroke-width="1" fill="none"/>
<path d="M771.4 950.7 L776.4 952.9" stroke="#000" stroke-width="1" fill="none"/>
<path d="M764.3 960.7 L772.1 963.6" stroke="#000" stroke-width="1" fill="none"/>
<path d="M748.6 979.3 L757.1 981" stroke="#000" stroke-width="1" fill="none"/>
<path d="M660.7 938.1 L665.7 937.6 L665.7 953.6 L660.7 953.6Z" stroke="#000" stroke-width="0.5" fill="#000"/>
<path d="M655.4 955.7 L660 952.9 L669.3 952.9 L674.6 958.6 L674.6 985.7 L659.3 988.6 L655.4 984.3Z" stroke="#000" stroke-width="1.7" fill="none"/>
<path d="M655.4 955.7 L659.3 960.7 L674.6 958.6" stroke="#000" stroke-width="1.2" fill="none"/>
<path d="M659.3 960.7 L659.3 988.6" stroke="#000" stroke-width="1.2" fill="none"/>
<path d="M662.1 971.4 L665 971 L665 976.1 L662.1 976.4Z" stroke="#000" stroke-width="1.1" fill="none"/>
<path d="M666.4 971 L669 970.4 L669 975.3 L666.4 975.7Z" stroke="#000" stroke-width="1.1" fill="none"/>
<path d="M663.6 980.4 L670.7 979.3 L670.7 982.9 L663.6 983.6Z" stroke="#000" stroke-width="1" fill="none"/>
<path d="M1006.9 1028.8 L993.6 1043.1 Q991.8 1045.1 992 1047.7 L992 1047.7 Q992.2 1050.4 994.7 1051.3 L1043.9 1069.4 Q1046.6 1070.4 1049.1 1068.9 L1049.1 1068.9 Q1051.6 1067.4 1053 1064.9 L1068.4 1038.4 Q1069.6 1036.4 1068.9 1034.1 L1068.9 1034.1 Q1068.2 1031.9 1066 1031 L1058 1028.1" stroke="#000" stroke-width="2.1" fill="none"/>
<path d="M1006.2 1034.9 L995.9 1045.9 Q995.2 1046.6 995.8 1047.4 L995.8 1047.4 Q996.3 1048.3 997.3 1048.6 L1044.2 1065.2 Q1045.9 1065.7 1047.4 1064.9 L1047.4 1064.9 Q1048.9 1064 1049.8 1062.5 L1066.1 1035.6 Q1066.7 1034.7 1065.9 1033.9 L1065.9 1033.9 Q1065.2 1033.1 1064.2 1032.8 L1058.4 1031.1" stroke="#000" stroke-width="1.5" fill="none"/>
<path d="M1014.1 1012.6 C1013.3 1013.3 1010.3 1015.2 1009.2 1017.1 C1008.1 1019 1007.8 1021.8 1007.5 1023.9 C1007.1 1026.1 1007.2 1027.8 1007.1 1030 C1007 1032.1 1006.2 1034.6 1006.9 1036.8 C1007.7 1038.9 1009.6 1041.2 1011.5 1042.8 C1013.4 1044.5 1015.9 1045.5 1018.3 1046.6 C1020.7 1047.7 1023.6 1048.7 1025.8 1049.3 C1028.1 1049.8 1029.1 1050.1 1031.9 1050 C1034.7 1049.9 1039 1049.7 1042.5 1048.5 C1046 1047.3 1050.6 1044.8 1053.1 1042.8 C1055.6 1040.9 1056.8 1039.9 1057.6 1036.8 C1058.4 1033.6 1058.2 1027.1 1058 1023.9 C1057.7 1020.8 1057.4 1019.8 1056.1 1017.9 C1054.8 1015.9 1051.1 1013.1 1050.1 1012.2" stroke="#000" stroke-width="2.2" fill="#fefefe"/>
<path d="M1007.7 1029.2 C1009.6 1030.2 1015 1033.8 1019 1035.3 C1023.1 1036.7 1027.5 1037.9 1031.9 1037.9 C1036.3 1037.9 1041.2 1036.8 1045.5 1035.3 C1049.8 1033.7 1055.6 1029.6 1057.6 1028.4" stroke="#000" stroke-width="2.2" fill="none"/>
<path d="M1010 1042.8 L1006.6 1046.8 Q1005.3 1048.3 1007 1049.4 L1008.3 1050.2 Q1010 1051.3 1011.3 1049.8 L1014.7 1046.2" stroke="#000" stroke-width="1.8" fill="#fefefe"/>
<path d="M1007.7 1048.9 L1011.5 1044.7" stroke="#000" stroke-width="1" fill="none"/>
<path d="M1038 1050.4 L1040.4 1058.5 Q1041 1060.4 1042.9 1059.9 L1044.7 1059.4 Q1046.6 1058.9 1046 1057 L1043.4 1049.3" stroke="#000" stroke-width="1.8" fill="#fefefe"/>
<path d="M1041.7 1051.5 L1044.8 1058" stroke="#000" stroke-width="1" fill="none"/>
<ellipse cx="1021.7" cy="1047.7" rx="3.6" ry="5.2" stroke="#000" stroke-width="2.4" fill="#fefefe"/>
<path d="M1015.4 955 L1015.4 1017.3 Q1031.1 1034 1048.4 1017.3 L1048.4 955 Z" fill="#fefefe" stroke="none"/>
<path d="M1015.4 956 L1015.4 1018" stroke="#000" stroke-width="2.5" fill="none"/>
<path d="M1048.4 956 L1048.4 1018" stroke="#000" stroke-width="2.5" fill="none"/>
<path d="M1017.6 962 L1017.6 978" stroke="#555" stroke-width="0.7" fill="none"/>
<path d="M1046.3 962 L1046.3 978" stroke="#555" stroke-width="0.7" fill="none"/>
<path d="M1014.1 1012.9 C1014.2 1013.9 1013.7 1017 1014.9 1018.6 C1016.1 1020.3 1018.7 1021.8 1021.3 1022.8 C1023.9 1023.8 1027.4 1024.6 1030.4 1024.7 C1033.4 1024.7 1036.7 1024.3 1039.5 1023.2 C1042.2 1022 1045.3 1019.7 1047 1017.9 C1048.7 1016 1049.2 1013.1 1049.7 1012.2" stroke="#000" stroke-width="2.2" fill="none"/>
<path d="M1010.7 1017.9 C1012.1 1018.9 1015.8 1022.4 1019 1023.9 C1022.3 1025.4 1026.5 1026.9 1030.4 1027.1 C1034.3 1027.2 1039.1 1026.5 1042.5 1024.8 C1045.9 1023.2 1049.4 1018.4 1050.8 1017.1" stroke="#000" stroke-width="2.2" fill="none"/>
<path d="M1014.3 979.9 C1015.6 980.8 1019.6 984.3 1022.4 985.5 C1025.2 986.7 1028 987.2 1031.1 987.1 C1034.2 987 1038.1 986.3 1041.1 985.1 C1044.2 983.9 1048.1 980.7 1049.5 979.9" stroke="#000" stroke-width="2.2" fill="none"/>
<path d="M1014.3 999.8 C1015.6 1000.9 1019.6 1004.7 1022.4 1006.1 C1025.2 1007.5 1028 1008.2 1031.1 1008.3 C1034.2 1008.4 1038.1 1007.9 1041.1 1006.7 C1044.2 1005.5 1048.1 1002 1049.5 1001.1" stroke="#000" stroke-width="2.2" fill="none"/>
<ellipse cx="1030.4" cy="1015.2" rx="7.9" ry="6.3" stroke="#000" stroke-width="2" fill="#fefefe"/>
<ellipse cx="1031.3" cy="955.3" rx="18.6" ry="10.6" stroke="#000" stroke-width="1.2" fill="#fefefe"/>
<ellipse cx="1031.3" cy="951.6" rx="19.4" ry="11" stroke="#000" stroke-width="2.3" fill="#fefefe"/>
<ellipse cx="1031.3" cy="949.1" rx="19.4" ry="11.1" stroke="#000" stroke-width="2.5" fill="#fefefe"/>
<path d="M1026.1 914.3 C1026.4 915.3 1028.2 917.8 1028 920 C1027.8 922.1 1025.2 925 1024.9 927.5 C1024.5 929.9 1025.7 933.7 1025.9 934.9" stroke="#000" stroke-width="2.1" fill="none"/>
<path d="M1039.2 918.7 C1039.4 919.8 1040.7 922.9 1040.5 925 C1040.3 927 1038.3 929.3 1038 931.2 C1037.7 933.1 1038.7 935.6 1038.9 936.4" stroke="#000" stroke-width="2.1" fill="none"/>
<path d="M1049.6 925.6 C1049.2 926.7 1047.5 930.5 1047.3 932.4 C1047.2 934.4 1048.7 936.1 1048.8 937.4 C1049 938.8 1048.2 940 1048.1 940.6" stroke="#000" stroke-width="2.1" fill="none"/>
<path d="M1004.7 941.2 C1005.1 942.2 1007.2 945.1 1007.2 947.4 C1007.1 949.7 1004.5 952.6 1004.3 954.9 C1004.1 957.2 1005.6 960.1 1005.9 961.1" stroke="#000" stroke-width="2.1" fill="none"/>
<path d="M1060.8 948.7 C1061.1 949.7 1062.6 952.6 1062.3 954.9 C1062.1 957.2 1059.6 960 1059.2 962.4 C1058.8 964.8 1060 968.1 1060.2 969.3" stroke="#000" stroke-width="2.1" fill="none"/>
<path d="M1063.6 982.4 C1063.7 983.6 1064.5 987.6 1064.2 989.8 C1063.9 992.1 1061.9 994.1 1061.7 996.1 C1061.5 998.1 1062.7 1000.8 1062.9 1001.7" stroke="#000" stroke-width="2.1" fill="none"/>
<use href="#copier" transform="translate(0,0)"/>
<use href="#copier" transform="translate(-69.5,226.8)"/>
<use href="#copier" transform="translate(-15.8,501.2)"/>
<use href="#copier" transform="translate(27,717)"/>
<use href="#xm" transform="translate(704.2,213.1)"/>
<use href="#xm" transform="translate(919.8,464.4)"/>
<use href="#xm" transform="translate(749.6,964.4)"/>
<use href="#xm" transform="translate(1013.5,987.8)"/>
<path d="M884.5 1091.9 L891.9 1101.6 L886.9 1101.6 L886.9 1113.4 L891.9 1113.4 L884.5 1123.1 L877.1 1113.4 L882.1 1113.4 L882.1 1101.6 L877.1 1101.6Z" fill="#231f20" stroke="none"/>
<path d="M883.2 1264.6 L890.4 1273.8 L885.6 1273.8 L885.6 1297.9 L890.4 1297.9 L883.2 1307.1 L876.1 1297.9 L880.9 1297.9 L880.9 1273.8 L876.1 1273.8Z" fill="#231f20" stroke="none"/>
<path d="M705.0 1190.8 L714.1 1183.7 L714.1 1188.5 L738.1 1188.5 L738.1 1183.7 L747.2 1190.8 L738.1 1197.8 L738.1 1193.0 L714.1 1193.0 L714.1 1197.8Z" fill="#231f20" stroke="none"/>
<path d="M954.1 1164.7 L991.3 1164.7 Q993.3 1164.7 993.3 1166.7 L993.3 1245.3 Q993.3 1247.3 991.3 1247.3 L941.8 1247.3" stroke="#231f20" stroke-width="1.5" fill="none"/>
<path d="M942.4 1244.1 L991.2 1244.1" stroke="#231f20" stroke-width="0.8" fill="none"/>
<path d="M954.7 1184.7 L973 1184.7 Q974.5 1184.7 974.8 1186.2 L975 1186.8 Q975.3 1188.2 976.8 1188.2 L986.5 1188.2 Q988 1188.2 988 1189.7 L988 1232 Q988 1233.5 986.5 1233.5 L976.8 1233.5 Q975.3 1233.5 975.3 1235 L975.3 1235 Q975.3 1236.5 973.8 1236.5 L952.4 1236.5" stroke="#231f20" stroke-width="1.5" fill="none"/>
<path d="M974.5 1186.5 L974.5 1236.5" stroke="#231f20" stroke-width="1.1" fill="none"/>
<path d="M954.7 1204.5 L974.5 1204.5" stroke="#231f20" stroke-width="1.1" fill="none"/>
<path d="M975.3 1205.3 L987.6 1205.3" stroke="#231f20" stroke-width="1.1" fill="none"/>
<path d="M954.7 1217.4 L974.5 1217.4" stroke="#231f20" stroke-width="1.1" fill="none"/>
<path d="M975.3 1215.3 L987.6 1215.3" stroke="#231f20" stroke-width="1.1" fill="none"/>
<path d="M954.7 1185.9 L961.8 1185.9 L961.8 1188.2 L954.7 1188.2" stroke="#231f20" stroke-width="0.8" fill="none"/>
<path d="M952.4 1233.5 L961.8 1233.5 L961.8 1235.9" stroke="#231f20" stroke-width="0.8" fill="none"/>
<path d="M820.3 1151.8 L820.3 1126.8 Q820.3 1125.3 821.8 1125.3 L951.8 1125.3 Q953.3 1125.3 953.3 1126.8 L954.2 1152.4" stroke="#231f20" stroke-width="1.5" fill="none"/>
<path d="M822.6 1149.4 L822.6 1128.8 L900 1128.5" stroke="#231f20" stroke-width="0.8" fill="none"/>
<path d="M883.5 1128.8 L883.5 1225.9" stroke="#999" stroke-width="1" fill="none"/>
<path d="M900.6 1128.5 L900.6 1229.4" stroke="#999" stroke-width="1" fill="none"/>
<path d="M821.5 1151.8 C822.5 1151.5 822.5 1150.8 827.4 1150.4 C832.3 1149.9 843.8 1149.4 850.9 1149.2 C858 1148.9 864.9 1148.9 870 1148.8 C875.1 1148.8 878.4 1148.5 881.8 1148.8 C885.1 1149.1 887.3 1150 890 1150.6 C892.7 1151.2 896.9 1152.1 898.2 1152.4" stroke="#231f20" stroke-width="1.5" fill="none"/>
<path d="M898.2 1152.4 L954.1 1152.4" stroke="#231f20" stroke-width="1.5" fill="none"/>
<path d="M910.6 1153.5 L910.6 1221.8" stroke="#231f20" stroke-width="1.1" fill="none"/>
<path d="M954.2 1152.4 L954.7 1229.2 Q954.7 1230.4 954.1 1231.4 L952 1234.9 Q951.4 1235.9 950.2 1235.9 L826.8 1235.9 Q825.6 1235.9 824.8 1235 L821.1 1231.2 Q820.3 1230.4 820.3 1229.2 L820.3 1223.5" stroke="#231f20" stroke-width="1.5" fill="none"/>
<path d="M820.3 1223.3 L954.1 1223.3" stroke="#231f20" stroke-width="1.5" fill="none"/>
<path d="M821.5 1226.8 L870 1226.5 L887.6 1226.5 L898.8 1228.2" stroke="#999" stroke-width="0.8" fill="none"/>
<path d="M856.2 1223.3 L856.2 1227.6 L885 1226.5" stroke="#999" stroke-width="0.8" fill="none"/>
<path d="M821.5 1232.9 L952.4 1232.9" stroke="#231f20" stroke-width="0.8" fill="none"/>
<path d="M780.3 1157.6 L753.8 1157.6 Q751.6 1157.6 751.5 1159.8 L750.2 1186.6 Q750.1 1188.8 750.1 1191 L751 1217.2 Q751.1 1219.4 753.3 1219.4 L780.3 1219.4" stroke="#231f20" stroke-width="1.5" fill="none"/>
<path d="M780.9 1157.6 C780.7 1159.6 780.3 1166.5 780.1 1169.4 C779.9 1172.4 779.3 1173.1 779.7 1175.3 C780.1 1177.5 781.9 1180 782.4 1182.4 C782.9 1184.7 783.1 1186.9 782.6 1189.4 C782.2 1192 780.3 1195.7 779.7 1197.6 C779.1 1199.6 779 1197.5 779.1 1201.2 C779.2 1204.8 780.1 1216.4 780.3 1219.4" stroke="#231f20" stroke-width="1.5" fill="none"/>
<path d="M754.6 1161.2 L779.9 1161.2" stroke="#231f20" stroke-width="1.1" fill="none"/>
<path d="M754.6 1164.5 L779.9 1164.5" stroke="#231f20" stroke-width="1.1" fill="none"/>
<path d="M754.6 1168.2 L779.9 1168.2" stroke="#231f20" stroke-width="1.1" fill="none"/>
<path d="M754.6 1171.5 L779.9 1171.5" stroke="#231f20" stroke-width="1.1" fill="none"/>
<path d="M754.6 1175.3 L779.9 1175.3" stroke="#231f20" stroke-width="1.1" fill="none"/>
<path d="M753.5 1201.2 L779.4 1201.2" stroke="#231f20" stroke-width="1.1" fill="none"/>
<path d="M753.5 1204.9 L779.4 1204.9" stroke="#231f20" stroke-width="1.1" fill="none"/>
<path d="M753.5 1209.4 L779.4 1209.4" stroke="#231f20" stroke-width="1.1" fill="none"/>
<path d="M753.5 1212.4 L779.4 1212.4" stroke="#231f20" stroke-width="1.1" fill="none"/>
<path d="M753.5 1215.3 L779.4 1215.3" stroke="#231f20" stroke-width="1.1" fill="none"/>
<path d="M769.1 1159.4 C768.9 1162.1 768.9 1170.7 767.9 1175.3 C767 1179.9 763.3 1182.7 763.2 1187.1 C763.1 1191.4 766.5 1196 767.4 1201.2 C768.2 1206.3 768.3 1215.1 768.5 1217.9" stroke="#999" stroke-width="0.8" fill="none"/>
<path d="M780.6 1159.4 L781.2 1157.9 Q781.7 1156.5 783.2 1156.4 L789.1 1155.9" stroke="#231f20" stroke-width="1.5" fill="none"/>
<path d="M780.3 1219.4 L782.1 1221.2 L810.9 1221.2" stroke="#231f20" stroke-width="1.5" fill="none"/>
<path d="M782.1 1159.4 L788.8 1158.9" stroke="#999" stroke-width="0.8" fill="none"/>
<path d="M782.1 1162.4 L788.8 1161.9" stroke="#999" stroke-width="0.8" fill="none"/>
<path d="M782.1 1165.3 L788.8 1164.8" stroke="#999" stroke-width="0.8" fill="none"/>
<path d="M782.1 1168.2 L788.8 1167.8" stroke="#999" stroke-width="0.8" fill="none"/>
<path d="M782.1 1171.8 L788.8 1171.3" stroke="#999" stroke-width="0.8" fill="none"/>
<path d="M782.1 1175.3 L788.8 1174.8" stroke="#999" stroke-width="0.8" fill="none"/>
<path d="M782.1 1178.8 L788.8 1178.4" stroke="#999" stroke-width="0.8" fill="none"/>
<path d="M780.9 1198.8 L787.9 1198.8" stroke="#999" stroke-width="0.8" fill="none"/>
<path d="M780.9 1202.4 L787.9 1202.4" stroke="#999" stroke-width="0.8" fill="none"/>
<path d="M780.9 1205.9 L792.7 1205.9" stroke="#999" stroke-width="0.8" fill="none"/>
<path d="M780.9 1209.4 L797.5 1209.4" stroke="#999" stroke-width="0.8" fill="none"/>
<path d="M780.9 1212.9 L802.2 1212.9" stroke="#999" stroke-width="0.8" fill="none"/>
<path d="M780.9 1215.9 L806.2 1215.9" stroke="#999" stroke-width="0.8" fill="none"/>
<path d="M780.9 1218.6 L809.9 1218.6" stroke="#999" stroke-width="0.8" fill="none"/>
<path d="M789.1 1155.3 C789.4 1155 788.4 1154 790.9 1153.5 C793.3 1153 798.9 1152.7 803.8 1152.4 C808.7 1152 817.5 1151.7 820.3 1151.5" stroke="#231f20" stroke-width="1.5" fill="none"/>
<path d="M789.1 1155.3 C789 1158 788.8 1167.8 788.5 1171.8 C788.2 1175.7 787.5 1173.7 787.4 1178.8 C787.2 1183.9 786.6 1197.5 787.4 1202.4 C788.1 1207.3 791.3 1207.3 792.1 1208.2" stroke="#231f20" stroke-width="1.5" fill="none"/>
<path d="M792.1 1208.2 L810.9 1220 L817.9 1222.9 L820.3 1223.5" stroke="#231f20" stroke-width="1.5" fill="none"/>
<path d="M789.1 1171.2 C792 1171.5 802.9 1172.3 806.2 1172.9 C809.4 1173.6 808.1 1174.9 808.5 1175.3" stroke="#231f20" stroke-width="1.1" fill="none"/>
<path d="M808.5 1175.3 L808.5 1197.6" stroke="#231f20" stroke-width="1.1" fill="none"/>
<path d="M808.5 1197.6 C808.1 1198 809.6 1199.4 806.2 1200 C802.7 1200.6 791 1201.2 787.9 1201.4" stroke="#231f20" stroke-width="1.1" fill="none"/>
<rect x="792.6" y="1182.4" width="11" height="8.8" rx="1" stroke="#231f20" stroke-width="0.9" fill="none"/>
<path d="M794.4 1186.7 L800.9 1186.7" stroke="#777" stroke-width="1.2" fill="none"/>
<path d="M811.5 1186.7 L816.8 1186.7" stroke="#777" stroke-width="1.2" fill="none"/>
<path d="M819.1 1181.2 L821.5 1186.7 L819.1 1191.8" stroke="#555" stroke-width="0.9" fill="none"/>
<path d="M819.1 1152.9 L819.1 1222.4" stroke="#999" stroke-width="0.8" fill="none"/>
<path d="M826.2 1152.9 L826.2 1222.9" stroke="#231f20" stroke-width="1.1" fill="none"/>
<path d="M856.2 1150.8 L856.2 1222.9" stroke="#231f20" stroke-width="1.1" fill="none"/>
<path d="M858.5 1150.4 L858.5 1226.5" stroke="#777" stroke-width="1" fill="none"/>
<path d="M826.8 1160.6 L856.2 1160.6" stroke="#231f20" stroke-width="1.5" fill="none"/>
<path d="M826.8 1162.1 L856.2 1162.1" stroke="#231f20" stroke-width="0.8" fill="none"/>
<path d="M849.1 1162.9 L856.2 1162.9 L856.2 1164.5 L849.1 1164.5" stroke="#231f20" stroke-width="0.7" fill="none"/>
<path d="M826.8 1174.4 L841.5 1174.4 L856.2 1171.2" stroke="#231f20" stroke-width="1.1" fill="none"/>
<path d="M826.8 1184.5 L856.2 1181.2" stroke="#888" stroke-width="0.9" fill="none"/>
<path d="M826.8 1191.2 L856.2 1193.5" stroke="#888" stroke-width="0.9" fill="none"/>
<path d="M826.8 1201.2 L841.5 1201.2 L856.2 1203.8" stroke="#231f20" stroke-width="1.1" fill="none"/>
<path d="M826.8 1213.5 L856.2 1213.5" stroke="#231f20" stroke-width="1.5" fill="none"/>
<path d="M849.1 1213.5 L849.1 1211.2 L856.2 1211.2" stroke="#231f20" stroke-width="0.8" fill="none"/>
<rect x="839.1" y="1156.2" width="2.6" height="4.4" fill="#231f20"/>
<rect x="839.1" y="1174.4" width="2.6" height="6.2" fill="#231f20"/>
<rect x="839.1" y="1195.3" width="2.6" height="5.9" fill="#231f20"/>
<rect x="839.1" y="1214.1" width="2.6" height="6.5" fill="#231f20"/>
<path d="M813.2 1222.6 L813.2 1226.5" stroke="#231f20" stroke-width="1.5" fill="none"/>
<path d="M813.2 1226.5 L806 1226.5 Q803.8 1226.5 803.8 1228.7 L803.8 1253.1 Q803.8 1255.3 806 1255.3 L829.1 1255.3" stroke="#231f20" stroke-width="1.5" fill="none"/>
<path d="M805 1244.1 L826.2 1244.1" stroke="#999" stroke-width="0.8" fill="none"/>
<path d="M810.3 1246.5 L810.9 1252.4 L823.2 1252.4 L825 1246.5" stroke="#666" stroke-width="0.8" fill="none"/>
<path d="M829.1 1236.5 L829.1 1255.3 L834.4 1259.4" stroke="#231f20" stroke-width="1.5" fill="none"/>
<path d="M834.4 1259.4 C839.1 1259.6 851.8 1260.3 862.6 1260.5 C873.5 1260.7 886.5 1260.9 899.4 1260.7 C912.3 1260.5 933.2 1259.6 940 1259.4" stroke="#231f20" stroke-width="1.5" fill="none"/>
<path d="M940 1259.4 L940.6 1253.5 L941.8 1253.5 L941.8 1236.5" stroke="#231f20" stroke-width="1.5" fill="none"/>
<path d="M831.5 1237.6 L831.5 1254.1 L896.5 1254.7 L896.5 1237.6" stroke="#231f20" stroke-width="1.1" fill="none"/>
<path d="M831.5 1237.6 L896.5 1237.6" stroke="#231f20" stroke-width="1.1" fill="none"/>
<path d="M840.3 1240.2 L878.5 1240.2 L878.5 1251.2 L840.3 1251.2Z" stroke="#231f20" stroke-width="1.1" fill="none"/>
<path d="M834.4 1256.5 L898.2 1256.5 L898.2 1237.6" stroke="#231f20" stroke-width="1.1" fill="none"/>
<path d="M898.8 1236.5 L930 1235.9 L928.2 1252.4 L898.8 1252.9Z" stroke="#231f20" stroke-width="1.1" fill="none"/>
<rect x="901.5" y="1237.6" width="2.7" height="2.1" stroke="#231f20" stroke-width="0.95" fill="none"/>
<rect x="906.0" y="1237.6" width="2.7" height="2.1" stroke="#231f20" stroke-width="0.95" fill="none"/>
<rect x="910.5" y="1237.6" width="2.7" height="2.1" stroke="#231f20" stroke-width="0.95" fill="none"/>
<rect x="901.5" y="1241.4" width="2.7" height="2.1" stroke="#231f20" stroke-width="0.95" fill="none"/>
<rect x="906.0" y="1241.4" width="2.7" height="2.1" stroke="#231f20" stroke-width="0.95" fill="none"/>
<rect x="910.5" y="1241.4" width="2.7" height="2.1" stroke="#231f20" stroke-width="0.95" fill="none"/>
<rect x="901.5" y="1245.2" width="2.7" height="2.1" stroke="#231f20" stroke-width="0.95" fill="none"/>
<rect x="906.0" y="1245.2" width="2.7" height="2.1" stroke="#231f20" stroke-width="0.95" fill="none"/>
<rect x="910.5" y="1245.2" width="2.7" height="2.1" stroke="#231f20" stroke-width="0.95" fill="none"/>
<rect x="901.5" y="1248.9" width="2.7" height="2.1" stroke="#231f20" stroke-width="0.95" fill="none"/>
<rect x="906.0" y="1248.9" width="2.7" height="2.1" stroke="#231f20" stroke-width="0.95" fill="none"/>
<rect x="910.5" y="1248.9" width="2.7" height="2.1" stroke="#231f20" stroke-width="0.95" fill="none"/>
<circle cx="921.2" cy="1247.3" r="2.5" stroke="#222" stroke-width="0.8" fill="none"/>
<circle cx="923.2" cy="1239.6" r="1.1" stroke="#222" stroke-width="0.7" fill="none"/>
<rect x="915.5" y="1237.5" width="2" height="2" stroke="#222" stroke-width="0.7" fill="none"/>
<rect x="884.1" y="1240.5" width="3.4" height="1.6" rx="0.6" stroke="#222" stroke-width="0.7" fill="none"/>
<rect x="884.1" y="1243.1" width="3.4" height="1.6" rx="0.6" stroke="#222" stroke-width="0.7" fill="none"/>
<rect x="884.1" y="1246.4" width="3.4" height="1.6" rx="0.6" stroke="#222" stroke-width="0.7" fill="none"/>
<rect x="884.1" y="1249.3" width="3.4" height="1.6" rx="0.6" stroke="#222" stroke-width="0.7" fill="none"/>
<circle cx="892.4" cy="1250.4" r="1" stroke="#222" stroke-width="0.7" fill="none"/>
</svg>
</body></html>
